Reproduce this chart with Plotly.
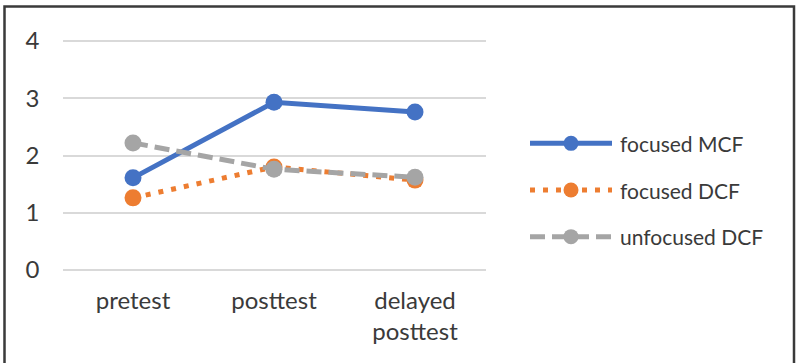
import plotly.graph_objects as go

W, H = 798, 363

categories = ["pretest", "posttest", "delayed<br>posttest"]
series_names = ["focused MCF", "focused DCF", "unfocused DCF"]
focused_mcf = [1.61, 2.93, 2.76]
focused_dcf = [1.26, 1.80, 1.57]
unfocused_dcf = [2.22, 1.76, 1.62]
y_ticks = [0, 1, 2, 3, 4]

colors = ["#4472C4", "#ED7D31", "#A5A5A5"]
dashes = ["solid", "5px,8px", "15px,7px"]
values = [focused_mcf, focused_dcf, unfocused_dcf]

FONT = "Lato, 'Open Sans', sans-serif"
TXT = "#3a3a3a"
FS = 24
FS_LEG = 21

fig = go.Figure()

# plot area in pixels (0 at 270, 4 at 41) with small padding so edge gridlines are drawn
pad = 0.04
unit = (270 - 41) / 4
px_l, px_r = 62.5, 485.5
px_t, px_b = 41 - pad * unit, 270 + pad * unit

for name, vals, c, d in zip(series_names, values, colors, dashes):
    fig.add_trace(go.Scatter(
        x=categories, y=vals, name=name, mode="lines+markers",
        line=dict(color=c, width=5, dash=d),
        marker=dict(color=c, size=17, opacity=1, line=dict(width=0)),
        showlegend=False, xaxis="x", yaxis="y",
    ))

# custom legend drawn on a separate hidden axis
for i, (name, c, d) in enumerate(zip(series_names, colors, dashes)):
    fig.add_trace(go.Scatter(
        x=[0, 0.5, 1], y=[i, i, i], mode="lines",
        line=dict(color=c, width=5, dash=d),
        showlegend=False, xaxis="x2", yaxis="y2", hoverinfo="skip",
    ))
    fig.add_trace(go.Scatter(
        x=[0.5], y=[i], mode="markers",
        marker=dict(color=c, size=15, opacity=1, line=dict(width=0)),
        showlegend=False, xaxis="x2", yaxis="y2", hoverinfo="skip",
    ))
    fig.add_annotation(
        x=618 / W, xref="paper", xanchor="left",
        y=i, yref="y2", yanchor="middle",
        text=name, showarrow=False,
        font=dict(family=FONT, size=FS_LEG, color=TXT),
    )

fig.update_layout(
    width=W, height=H,
    margin=dict(l=0, r=0, t=0, b=0, autoexpand=False),
    paper_bgcolor="white", plot_bgcolor="white",
    font=dict(family=FONT, size=FS, color=TXT),
    xaxis=dict(
        domain=[px_l / W, px_r / W], range=[-0.5, 2.5], showgrid=False,
        zeroline=False, automargin=False,
        showline=False, ticks="", tickfont=dict(size=FS, color=TXT),
        ticklabelstandoff=12, fixedrange=True,
    ),
    yaxis=dict(
        domain=[(H - px_b) / H, (H - px_t) / H], range=[-pad, 4 + pad],
        tickvals=y_ticks, showgrid=True, gridcolor="#D9D9D9", gridwidth=1.5,
        zeroline=False, showline=False, ticks="", automargin=False,
        tickfont=dict(size=FS, color=TXT), ticklabelstandoff=22,
    ),
    xaxis2=dict(domain=[530 / W, 612 / W], range=[0, 1], visible=False,
                anchor="y2", automargin=False),
    yaxis2=dict(domain=[(H - 260) / H, (H - 120) / H], range=[2.5, -0.5],
                visible=False, anchor="x2", automargin=False),
    shapes=[dict(type="rect", xref="paper", yref="paper",
                 x0=4.5 / W, x1=794 / W, y0=-0.1, y1=(H - 6.5) / H,
                 line=dict(color="#3a3a3a", width=2.5), layer="above")],
)

fig.write_html("out.html")
